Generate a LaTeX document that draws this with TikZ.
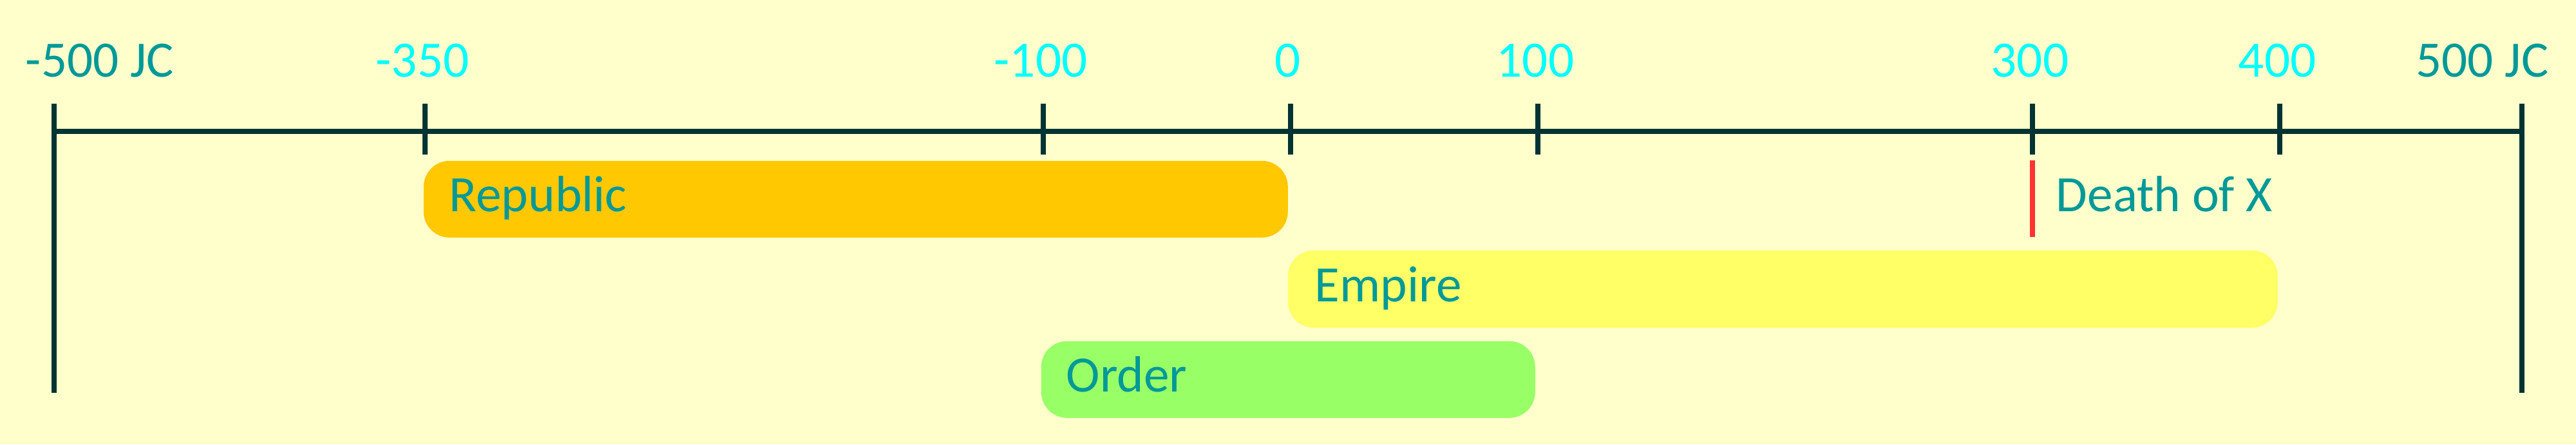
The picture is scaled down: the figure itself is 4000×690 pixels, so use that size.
\documentclass[tikz,border=0pt]{standalone}
\usepackage{fontspec}
\setmainfont{Carlito}
\definecolor{bg}{HTML}{FFFFCC}
\definecolor{axis}{HTML}{003333}
\definecolor{teal}{HTML}{009999}
\definecolor{cyanlab}{HTML}{00FFFF}
\definecolor{repfill}{HTML}{FFC800}
\definecolor{empfill}{HTML}{FFFF66}
\definecolor{ordfill}{HTML}{99FF66}
\definecolor{deathred}{HTML}{FF3333}
\begin{document}
\begin{tikzpicture}[x=0.25pt,y=-0.25pt,
  axisline/.style={draw=axis,line width=1.9pt},
  yearlab/.style={inner sep=0pt,anchor=base,font=\fontsize{19.8}{22}\selectfont,text=cyanlab},
  endlab/.style={inner sep=0pt,font=\fontsize{19.8}{22}\selectfont,text=teal},
  bar/.style={rounded corners=10pt,inner sep=0pt,anchor=north west},
  barlab/.style={inner sep=0pt,anchor=base west,font=\fontsize{19.8}{22}\selectfont,text=teal}]
\fill[bg] (0,0) rectangle (4000,690);
\useasboundingbox (0,0) rectangle (4000,690);
% tick positions
\coordinate (tm500) at (84,204);
\coordinate (tm350) at (660,204);
\coordinate (tm100) at (1620,204);
\coordinate (t0) at (2004,204);
\coordinate (t100) at (2388,204);
\coordinate (t300) at (3156,204);
\coordinate (t400) at (3540,204);
\coordinate (t500) at (3916,204);
% axis
\draw[axisline] (tm500) -- (t500);
\draw[axisline] ([yshift=43*0.25pt]tm500) -- ([yshift=-406*0.25pt]tm500);
\draw[axisline] ([yshift=43*0.25pt]t500) -- ([yshift=-406*0.25pt]t500);
\foreach \t in {tm350,tm100,t0,t100,t300,t400}
  \draw[axisline] ([yshift=43*0.25pt]\t) -- ([yshift=-36*0.25pt]\t);
% labels
\node[endlab,anchor=base west] (lm500) at (39,119) {-500 JC};
\node[endlab,anchor=base east] (l500) at (3958,119) {500 JC};
\node[yearlab] (lm350) at (656,119) {-350};
\node[yearlab] (lm100) at (1616,119) {-100};
\node[yearlab] (l0) at (2000,119) {0};
\node[yearlab] (l100) at (2384,119) {100};
\node[yearlab] (l300) at (3152,119) {300};
\node[yearlab] (l400) at (3536,119) {400};
% bars
\node[bar,fill=repfill,minimum width=335.5pt,minimum height=29.75pt] (republic) at (657,249) {};
\node[barlab] (replab) at (697,328) {Republic};
\node[bar,fill=empfill,minimum width=384.25pt,minimum height=30pt] (empire) at (1999,388) {};
\node[barlab] (emplab) at (2041,468) {Empire};
\node[bar,fill=ordfill,minimum width=191.75pt,minimum height=29.75pt] (order) at (1616,529) {};
\node[barlab] (ordlab) at (1655,608) {Order};
% event
\coordinate (deathtop) at (3156,249);
\coordinate (deathbot) at (3156,368);
\draw[deathred,line width=2pt] (deathtop) -- (deathbot);
\node[barlab] (death) at (3192,328) {Death of X};
\end{tikzpicture}
\end{document}
